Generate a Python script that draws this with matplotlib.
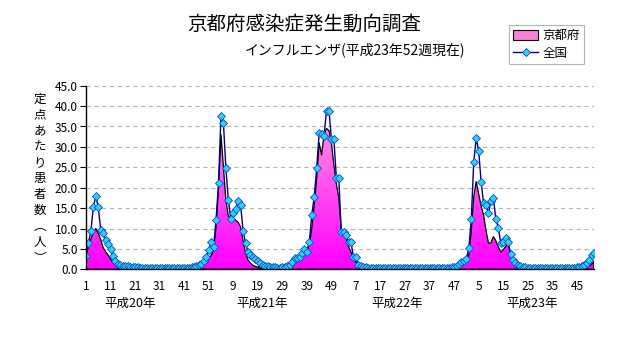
import numpy as np
import matplotlib
matplotlib.use('Agg')
import matplotlib.pyplot as plt
from matplotlib.colors import LinearSegmentedColormap
from matplotlib.patches import Patch
from matplotlib.lines import Line2D

plt.rcParams['font.family'] = ['Noto Sans CJK JP', 'DejaVu Sans']

# weekly values, 52 weeks per year, H20 (2008) .. H23 (2011)
national_h20 = [3.3, 6.5, 9.4, 15.3, 17.9, 15.2, 9.7, 8.9, 7.3, 6.1,
                5.0, 3.2, 2.0, 1.4, 1.1, 0.9, 0.8, 0.7, 0.6, 0.6,
                0.5, 0.5, 0.4, 0.4, 0.4, 0.4, 0.4, 0.4, 0.4, 0.4,
                0.4, 0.4, 0.4, 0.4, 0.4, 0.4, 0.4, 0.4, 0.4, 0.4,
                0.4, 0.4, 0.4, 0.5, 0.6, 0.8, 1.0, 1.3, 2.0, 3.0,
                4.7, 6.8]
national_h21 = [5.5, 12.2, 21.1, 37.6, 35.8, 24.8, 17.0, 12.3, 13.7, 14.9,
                16.8, 15.8, 9.5, 6.4, 4.3, 3.6, 3.1, 2.6, 2.0, 1.5,
                1.1, 0.9, 0.7, 0.6, 0.5, 0.5, 0.4, 0.4, 0.5, 0.6,
                0.8, 1.0, 1.9, 2.7, 2.7, 2.9, 3.9, 5.0, 4.3, 6.8,
                13.3, 17.8, 24.8, 33.3, 33.1, 32.7, 38.9, 38.9, 31.9, 31.9,
                22.5, 22.5]
national_h22 = [9.2, 9.2, 8.4, 6.6, 6.6, 2.9, 2.9, 1.0, 0.8, 0.6,
                0.5, 0.4, 0.4, 0.4, 0.4, 0.4, 0.4, 0.4, 0.4, 0.4,
                0.4, 0.4, 0.4, 0.4, 0.4, 0.4, 0.4, 0.4, 0.4, 0.4,
                0.4, 0.4, 0.4, 0.4, 0.4, 0.4, 0.4, 0.4, 0.4, 0.4,
                0.4, 0.4, 0.4, 0.4, 0.4, 0.5, 0.6, 0.7, 1.2, 1.7,
                2.1, 2.6]
national_h23 = [5.1, 12.3, 26.4, 32.1, 29.1, 21.5, 16.3, 15.8, 13.9, 16.7,
                17.4, 12.3, 10.2, 6.5, 6.6, 7.7, 6.8, 3.7, 2.3, 1.5,
                1.0, 0.8, 0.6, 0.5, 0.4, 0.4, 0.4, 0.4, 0.4, 0.4,
                0.4, 0.4, 0.4, 0.4, 0.4, 0.4, 0.4, 0.4, 0.4, 0.4,
                0.4, 0.4, 0.4, 0.4, 0.5, 0.6, 0.8, 1.1, 1.6, 2.4,
                3.4, 3.9]

kyoto_h20 = [3.5, 5.5, 7.5, 9.0, 10.0, 8.8, 7.3, 5.3, 4.3, 3.5,
             2.5, 1.6, 1.0, 0.7, 0.5, 0.3, 0.2, 0.2, 0.1, 0.1,
             0.0, 0.0, 0.0, 0.0, 0.0, 0.0, 0.0, 0.0, 0.0, 0.0,
             0.0, 0.0, 0.0, 0.0, 0.0, 0.0, 0.0, 0.0, 0.0, 0.0,
             0.0, 0.0, 0.0, 0.1, 0.1, 0.2, 0.3, 0.5, 0.9, 1.5,
             2.6, 3.4]
kyoto_h21 = [4.8, 10.5, 20.0, 33.0, 25.0, 17.0, 13.0, 12.5, 12.5, 12.0,
             11.5, 10.4, 7.0, 4.0, 2.3, 1.5, 1.0, 0.7, 0.5, 0.3,
             0.2, 0.1, 0.1, 0.1, 0.1, 0.1, 0.1, 0.2, 0.3, 0.5,
             0.8, 1.1, 1.5, 2.0, 2.4, 2.8, 3.2, 3.7, 4.5, 6.0,
             10.0, 15.8, 22.3, 31.0, 28.0, 33.0, 34.5, 34.0, 31.0, 25.5,
             21.0, 17.5]
kyoto_h22 = [10.0, 8.8, 7.6, 5.5, 4.2, 2.7, 1.8, 1.0, 0.6, 0.4,
             0.3, 0.2, 0.1, 0.1, 0.1, 0.1, 0.1, 0.1, 0.1, 0.1,
             0.0, 0.0, 0.0, 0.0, 0.0, 0.0, 0.0, 0.0, 0.0, 0.0,
             0.0, 0.0, 0.0, 0.0, 0.0, 0.0, 0.0, 0.0, 0.0, 0.0,
             0.0, 0.0, 0.0, 0.0, 0.1, 0.1, 0.2, 0.3, 0.5, 0.8,
             1.2, 2.0]
kyoto_h23 = [3.5, 9.5, 17.8, 21.5, 18.5, 15.5, 13.3, 9.5, 6.4, 6.5,
             8.0, 7.0, 5.5, 4.2, 4.8, 5.6, 6.4, 3.9, 2.0, 1.0,
             0.6, 0.4, 0.3, 0.2, 0.1, 0.1, 0.1, 0.0, 0.0, 0.0,
             0.0, 0.0, 0.0, 0.0, 0.0, 0.0, 0.0, 0.0, 0.0, 0.0,
             0.0, 0.0, 0.0, 0.0, 0.0, 0.1, 0.1, 0.2, 0.5, 0.8,
             1.2, 1.9]

year_labels = ['平成20年', '平成21年', '平成22年', '平成23年']

national = np.array(national_h20 + national_h21 + national_h22 + national_h23)
kyoto = np.array(kyoto_h20 + kyoto_h21 + kyoto_h22 + kyoto_h23)
n = len(national)
x = np.arange(1, n + 1)

fig = plt.figure(figsize=(6.32, 3.48), dpi=100)
W, H = 632, 348
ax = fig.add_axes([86 / W, 1 - 269.3 / H, (594 - 86) / W, (269.3 - 85.7) / H])

# gradient area for Kyoto
poly = ax.fill_between(x, kyoto, 0, facecolor='none', edgecolor='black', lw=0.9, zorder=3)
cmap = LinearSegmentedColormap.from_list('pk', ['#FF00FF', '#FFB4DC'])
grad = np.linspace(0, 1, 256).reshape(-1, 1)
im = ax.imshow(grad, extent=[1, n, 0, 45], origin='lower', aspect='auto', cmap=cmap, zorder=2)
im.set_clip_path(poly.get_paths()[0], transform=ax.transData)

ax.plot(x, national, color='#000080', lw=1, marker='D', markersize=4.2,
        markerfacecolor='#33CCFF', markeredgecolor='#0050C0', markeredgewidth=0.6, zorder=4)

ax.set_xlim(1, n)
ax.set_ylim(0, 45)
ax.set_yticks(np.arange(0, 46, 5))
ax.set_yticklabels(['%.1f' % v for v in np.arange(0, 46, 5)], fontsize=8.5)
for v in np.arange(5, 46, 5):
    ax.axhline(v, color='#B4B4B4', lw=0.8, ls=(0, (4, 3)), zorder=1)

major = np.arange(1, n + 1, 10)
ax.set_xticks(major)
ax.set_xticklabels([str((i - 1) % 52 + 1) for i in major], fontsize=8.5)
ax.set_xticks(np.arange(6, n + 1, 10), minor=True)
ax.tick_params(axis='x', which='both', direction='in', length=3, pad=8, width=0.8)
ax.tick_params(axis='y', direction='out', length=4, pad=2, width=0.8)

for s in ['top', 'right']:
    ax.spines[s].set_visible(False)
for s in ['left', 'bottom']:
    ax.spines[s].set_linewidth(1)
    ax.spines[s].set_zorder(5)

trans = ax.get_xaxis_transform()
for xpos, lab in zip([19.1, 72.9, 127.9, 182.9], year_labels):
    ax.text(xpos, -0.184, lab, transform=trans, ha='center', va='center', fontsize=9)

# vertical y label
ylab = ['定', '点', 'あ', 'た', 'り', '患', '者', '数', '︵', '人', '︶']
for k, ch in enumerate(ylab):
    fig.text(40 / W, 1 - (99.3 + k * 15.9) / H, ch, ha='center', va='center', fontsize=9)

fig.text(304 / W, 1 - 24 / H, '京都府感染症発生動向調査', ha='center', va='center', fontsize=14)
fig.text(355 / W, 1 - 50 / H, 'インフルエンザ(平成23年52週現在)', ha='center', va='center', fontsize=10)

handles = [Patch(facecolor='#FF80D8', edgecolor='black', lw=0.8),
           Line2D([], [], color='#000080', lw=1, marker='D', markersize=4.2,
                  markerfacecolor='#33CCFF', markeredgecolor='#0050C0', markeredgewidth=0.6)]
leg = fig.legend(handles, ['京都府', '全国'], loc='upper left',
                 bbox_to_anchor=(509 / W, 1 - 25 / H), frameon=True, fancybox=False,
                 fontsize=9, handlelength=2.0, handleheight=0.8, borderpad=0.35,
                 labelspacing=0.35, handletextpad=0.3, borderaxespad=0)
leg.get_frame().set_edgecolor('#A0A0A0')
leg.get_frame().set_linewidth(0.8)

fig.savefig('out.png', dpi=100)
